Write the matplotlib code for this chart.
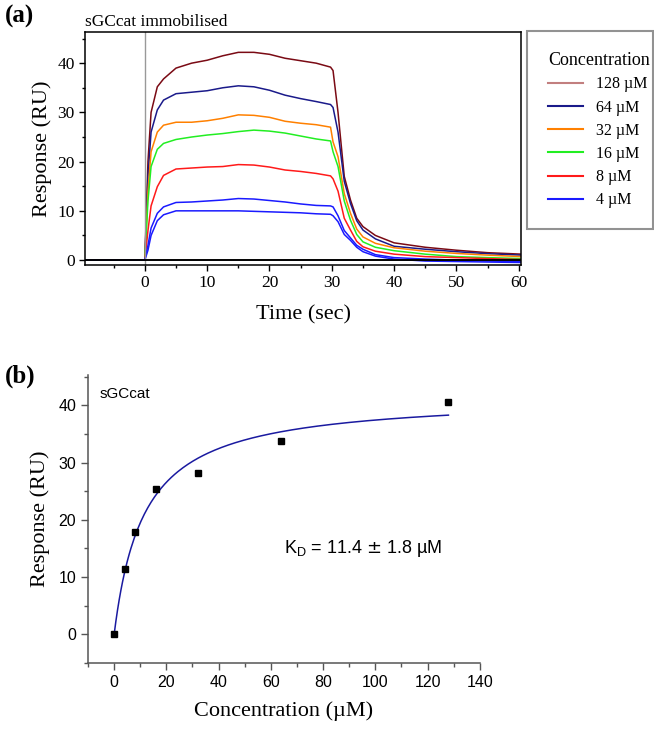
import matplotlib
matplotlib.use("Agg")
import numpy as np
import matplotlib.pyplot as plt
from matplotlib.lines import Line2D
from matplotlib.ticker import MultipleLocator

# ---- panel (a): sensorgrams ----
time = [-10, -1, 0, 0.5, 1, 2, 3, 5, 7.5, 10, 12.5, 15, 17.5, 20, 22.5, 25,
        27.5, 29.8, 30.2, 31, 32, 33, 34, 35, 37, 40, 45, 50, 55, 60.5]

resp_128 = [0, 0, 0, 20, 30, 35.2, 36.8, 39, 40, 40.6, 41.5, 42.2, 42.2, 41.8, 41, 40.5,
            40, 39.2, 38.5, 30, 17, 12.2, 8.5, 6.8, 5.0, 3.5, 2.6, 2.0, 1.5, 1.2]
resp_64 = [0, 0, 0, 17, 26, 30.5, 32.5, 33.8, 34.1, 34.4, 35, 35.4, 35.2, 34.5, 33.5, 32.8,
           32.2, 31.6, 31, 26, 16, 11.5, 8, 6.1, 4.3, 2.8, 2.2, 1.7, 1.3, 1.0]
resp_32 = [0, 0, 0, 14, 22, 26, 27.4, 28, 28, 28.3, 28.8, 29.5, 29.4, 29, 28.2, 27.8,
           27.5, 27, 24, 21, 13.5, 9.5, 6.3, 4.7, 3.4, 2.5, 1.8, 1.35, 1.0, 0.7]
resp_16 = [0, 0, 0, 12, 19, 22.5, 23.7, 24.5, 25, 25.4, 25.7, 26.1, 26.4, 26.2, 25.8, 25.2,
           24.6, 24.2, 22, 19, 12, 8.1, 5.2, 3.7, 2.6, 1.9, 1.2, 0.7, 0.5, 0.3]
resp_8 = [0, 0, 0, 6, 11, 14.9, 17.2, 18.5, 18.7, 18.9, 19, 19.4, 19.3, 18.9, 18.3, 18,
          17.6, 17.1, 16.5, 14, 8.5, 6.1, 3.8, 2.7, 1.8, 1.2, 0.7, 0.5, 0.3, 0.1]
resp_4a = [0, 0, 0, 3, 6.5, 9.5, 10.8, 11.7, 11.8, 12, 12.2, 12.5, 12.4, 12.1, 11.8, 11.4,
           11.1, 11, 10.8, 9, 6, 4.5, 3, 2.2, 1.1, 0.5, 0.2, 0.0, -0.2, -0.3]
resp_4b = [0, 0, 0, 2, 5, 8, 9.2, 10, 10, 10, 10, 10, 9.9, 9.8, 9.7, 9.6,
           9.4, 9.3, 9.0, 7.8, 5.2, 4.0, 2.6, 1.7, 0.8, 0.2, -0.2, -0.3, -0.4, -0.5]

labels = ['128 \u00b5M', '64 \u00b5M', '32 \u00b5M', '16 \u00b5M', '8 \u00b5M', '4 \u00b5M']
legend_colors = ['#c27f7f', '#1a1a8a', '#ff8000', '#22ee22', '#ff1a1a', '#1a1aff']
curves = [resp_128, resp_64, resp_32, resp_16, resp_8, resp_4a, resp_4b]
curve_colors = ['#7a0a14', '#1a1a8a', '#ff8000', '#22ee22', '#ff1a1a', '#1a1aff', '#1a1aff']

# ---- panel (b): steady-state fit ----
conc = [0, 4, 8, 16, 32, 64, 128]
resp_eq = [0, 11.4, 17.8, 25.4, 28.1, 33.8, 40.6]
kd = 11.4
rmax = 41.7

serif = 'Liberation Serif'
sans = 'Liberation Sans'

fig = plt.figure(figsize=(6.54, 7.31), dpi=100)

ax1 = fig.add_axes([0.130, 0.6375, 0.667, 0.3185])
for y, c in zip(curves, curve_colors):
    ax1.plot(time, y, color=c, lw=1.1)
ax1.axvline(0, color='#999999', lw=1)
ax1.axhline(0, color='black', lw=1.4)
ax1.set_xlim(-9.6, 60.4)
ax1.set_ylim(-1, 46.3)
ax1.xaxis.set_major_locator(MultipleLocator(10))
ax1.xaxis.set_minor_locator(MultipleLocator(5))
ax1.yaxis.set_major_locator(MultipleLocator(10))
ax1.yaxis.set_minor_locator(MultipleLocator(5))
ax1.tick_params(direction='out', length=4, width=1, labelsize=12.5)
ax1.tick_params(which='minor', direction='out', length=2.5, width=1)
for lab in ax1.get_xticklabels() + ax1.get_yticklabels():
    lab.set_family(serif)
ax1.set_xlabel('Time (sec)', family=serif, fontsize=16, labelpad=10)
ax1.set_ylabel('Response (RU)', family=serif, fontsize=16, labelpad=4)
ax1.text(0.0, 1.01, 'sGCcat immobilised', transform=ax1.transAxes,
         family=serif, fontsize=12.5, va='bottom', ha='left')
for s in ax1.spines.values():
    s.set_linewidth(1.1)

handles = [Line2D([], [], color=c, lw=1.5) for c in legend_colors]
leg = fig.legend(handles, labels, title='Concentration', loc='upper left',
                 bbox_to_anchor=(0.806, 0.676, 0.192, 0.281), mode='expand',
                 borderaxespad=0, frameon=True, fancybox=False,
                 prop={'family': serif, 'size': 11.5}, handlelength=2.2,
                 handletextpad=0.8, borderpad=1.3, labelspacing=0.45,
                 title_fontproperties={'family': serif, 'size': 13})
leg.get_frame().set_edgecolor('#777777')
leg.get_frame().set_linewidth(1.5)
leg._legend_box.align = 'left'

fig.text(0.008, 0.978, '(a)', family=serif, fontsize=18, fontweight='bold', va='center')

# panel (b)
ax2 = fig.add_axes([0.1346, 0.093, 0.599, 0.394])
xfit = np.linspace(0, 128, 200)
ax2.plot(xfit, rmax * xfit / (kd + xfit), color='#1a1aa0', lw=1.1)
ax2.plot(conc, resp_eq, 's', color='black', ms=5)
ax2.set_xlim(-10, 140)
ax2.set_ylim(-5, 45.3)
ax2.spines['top'].set_visible(False)
ax2.spines['right'].set_visible(False)
for s in ['left', 'bottom']:
    ax2.spines[s].set_color('#555555')
    ax2.spines[s].set_linewidth(1.1)
ax2.xaxis.set_major_locator(MultipleLocator(20))
ax2.xaxis.set_minor_locator(MultipleLocator(10))
ax2.yaxis.set_major_locator(MultipleLocator(10))
ax2.yaxis.set_minor_locator(MultipleLocator(5))
ax2.tick_params(direction='out', length=5, width=1, color='#555555', labelsize=11.5)
ax2.tick_params(which='minor', direction='out', length=3, width=1, color='#555555')
for lab in ax2.get_xticklabels() + ax2.get_yticklabels():
    lab.set_family(sans)
ax2.set_xlabel('Concentration (\u00b5M)', family=serif, fontsize=16, labelpad=8)
ax2.set_ylabel('Response (RU)', family=serif, fontsize=16, labelpad=6)
ax2.text(0.03, 0.96, 'sGCcat', transform=ax2.transAxes, family=sans,
         fontsize=11, va='top')
ax2.text(65, 15, 'K$_\\mathregular{D}$ = 11.4 $\\pm$ 1.8 \u00b5M', family=sans, fontsize=13,
         va='center', ha='left')

fig.text(0.008, 0.485, '(b)', family=serif, fontsize=18, fontweight='bold', va='center')

fig.savefig('out.png', dpi=100)
